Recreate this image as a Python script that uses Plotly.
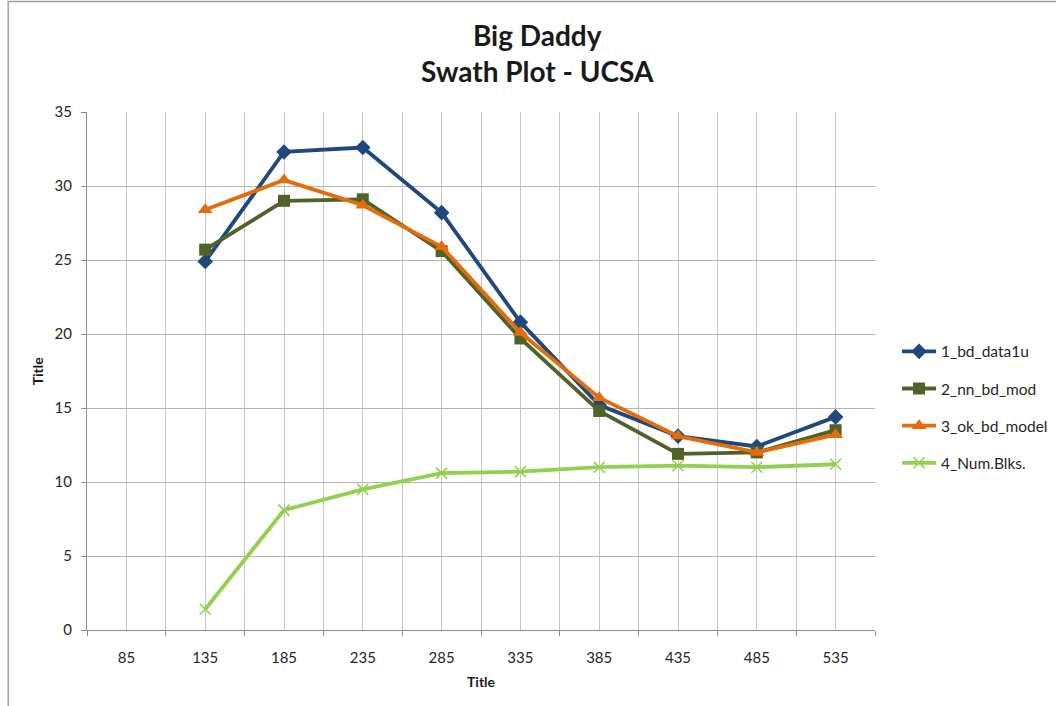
import plotly.graph_objects as go

# Swath plot: grade per slice along the swath
categories = ["85", "135", "185", "235", "285", "335", "385", "435", "485", "535"]

bd_data1u = [None, 24.9, 32.3, 32.6, 28.2, 20.8, 15.2, 13.1, 12.4, 14.4]
nn_bd_mod = [None, 25.7, 29.0, 29.1, 25.6, 19.7, 14.8, 11.9, 12.0, 13.5]
ok_bd_model = [None, 28.4, 30.4, 28.7, 25.9, 20.1, 15.7, 13.1, 12.0, 13.2]
num_blks = [None, 1.4, 8.1, 9.5, 10.6, 10.7, 11.0, 11.1, 11.0, 11.2]

y_ticks = [0, 5, 10, 15, 20, 25, 30, 35]

positions = list(range(len(categories)))

series = [
    ("1_bd_data1u", bd_data1u, "#1F497D", "diamond", 12, None),
    ("2_nn_bd_mod", nn_bd_mod, "#4F6228", "square", 12, None),
    ("3_ok_bd_model", ok_bd_model, "#E46C0A", "triangle-up", 13, None),
    ("4_Num.Blks.", num_blks, "#92D050", "x-thin", 11, 1.6),
]

fig = go.Figure()
for i, (name, vals, color, symbol, size, mlw) in enumerate(series):
    marker = dict(symbol=symbol, size=size, color=color)
    if mlw:
        marker["line"] = dict(color=color, width=mlw)
    fig.add_trace(go.Scatter(
        x=positions, y=vals, name=name, mode="lines+markers",
        line=dict(color=color, width=3.8),
        marker=marker, legendgroup=f"g{i}",
    ))

font_main = "Lato, 'Open Sans', sans-serif"

fig.update_layout(
    width=1056, height=706,
    margin=dict(l=87, r=181, t=112, b=76, autoexpand=False),
    paper_bgcolor="white", plot_bgcolor="white",
    font=dict(family=font_main, size=15, color="#262626"),
    showlegend=True,
    legend=dict(
        x=1.028, y=0.43, xanchor="left", yanchor="middle",
        font=dict(size=15.5, color="#262626"),
        tracegroupgap=14, itemwidth=34,
        bgcolor="rgba(0,0,0,0)",
    ),
    xaxis=dict(
        range=[-0.5, len(categories) - 0.5],
        tickvals=positions, ticktext=categories,
        ticks="", showgrid=True, gridcolor="#C6C6C6", gridwidth=1,
        showline=True, linecolor="#8C8C8C", linewidth=1,
        ticklabelstandoff=14, zeroline=False,
        minor=dict(tick0=-0.5, dtick=1, showgrid=True, gridcolor="#C6C6C6",
                   ticks="outside", ticklen=5, tickcolor="#8C8C8C"),
        tickfont=dict(size=15),
    ),
    yaxis=dict(
        range=[0, 35], tickvals=y_ticks,
        ticks="outside", ticklen=5, tickcolor="#8C8C8C",
        showgrid=True, gridcolor="#B4B4B4", gridwidth=1.3,
        showline=True, linecolor="#8C8C8C", linewidth=1,
        zeroline=False, ticklabelstandoff=6,
        tickfont=dict(size=15),
    ),
    annotations=[
        dict(text="<b>Big Daddy</b><br><b>Swath Plot - UCSA</b>",
             xref="paper", yref="paper", x=0.572, y=1.185,
             xanchor="center", yanchor="top", showarrow=False,
             font=dict(size=28, color="#1a1a1a"), align="center"),
        dict(text="<b>Title</b>", xref="paper", yref="paper", x=0.5, y=-0.08,
             xanchor="center", yanchor="top", showarrow=False,
             font=dict(size=14, color="#1a1a1a")),
        dict(text="<b>Title</b>", xref="paper", yref="paper", x=-0.063, y=0.5,
             xanchor="center", yanchor="middle", showarrow=False, textangle=-90,
             font=dict(size=14, color="#1a1a1a")),
    ],
    shapes=[
        dict(type="rect", xref="paper", yref="paper",
             x0=-0.1, x1=1.25, y0=-0.2, y1=1.2135,
             line=dict(color="#A0A0A0", width=1.5), layer="below"),
    ],
)

fig.write_html("out.html")
